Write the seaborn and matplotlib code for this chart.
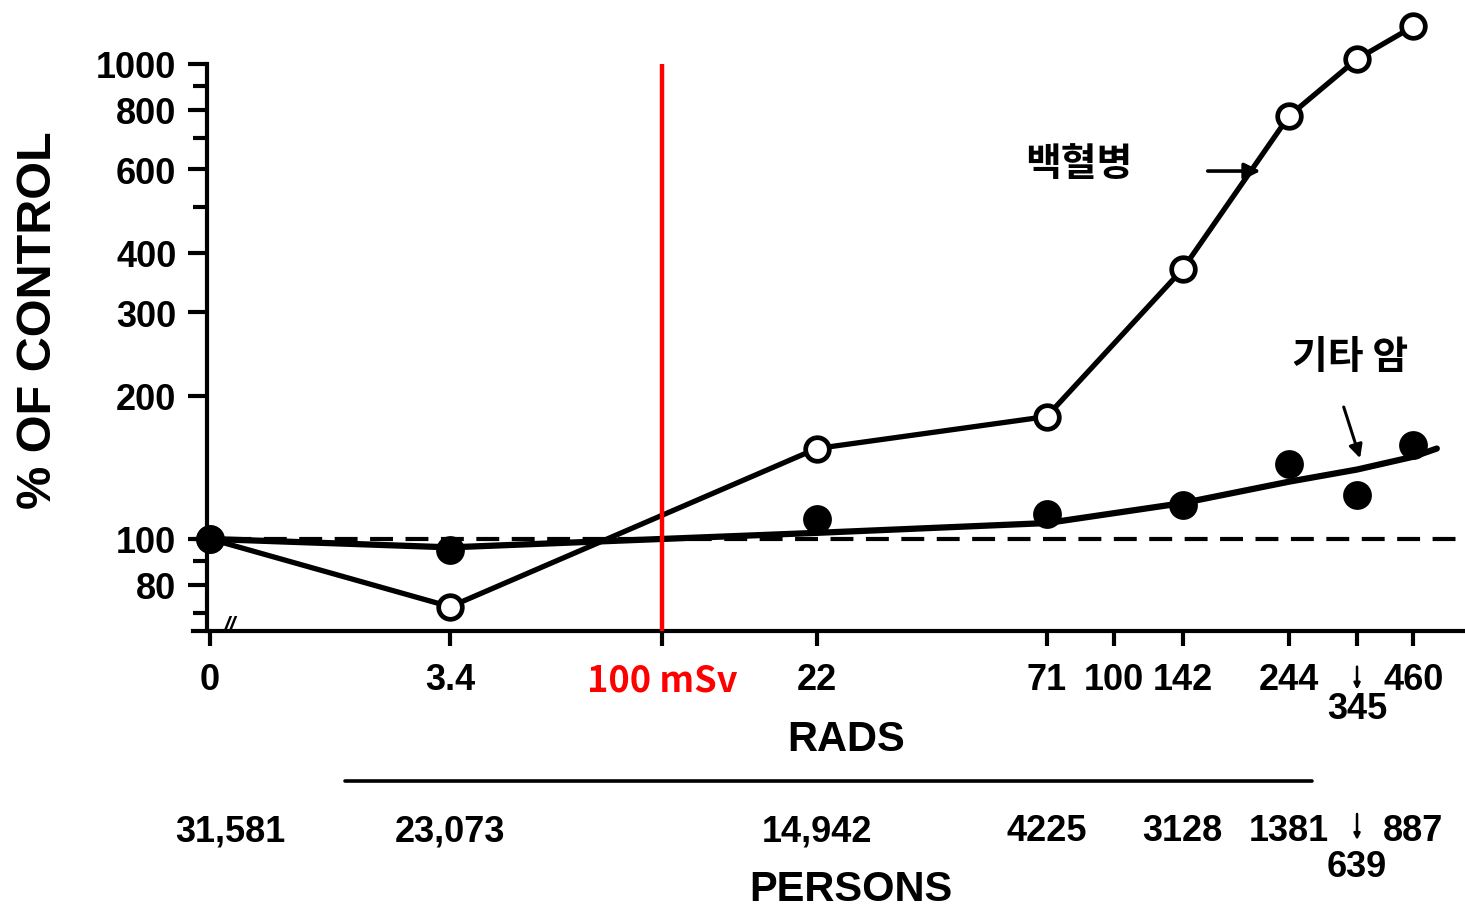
import numpy as np
import matplotlib
matplotlib.use('Agg')
import matplotlib.pyplot as plt
import matplotlib.transforms as mtransforms
from matplotlib.lines import Line2D
from matplotlib.ticker import FixedLocator, FixedFormatter, NullLocator, NullFormatter
import seaborn as sns

# ---------------- data ----------------
dose_groups = [0, 3.4, 22, 71, 142, 244, 345, 460]            # rads
dose_labels = ['0', '3.4', '22', '71', '142', '244', '345', '460']
leukemia_pct = [100, 72, 155, 181, 370, 777, 1024, 1200]      # % of control (open circles)
other_cancer_pct = [100, 95, 110, 113, 118, 144, 124, 158]    # % of control (filled circles)
fit_doses = [0, 3.4, 10, 22, 71, 142, 244, 345, 460, 518]     # drawn curve for other cancers
other_cancer_fit = [100, 96, 100, 103, 108, 119, 132, 140, 149, 155]
persons = ['31,581', '23,073', '14,942', '4225', '3128', '1381', '639', '887']
extra_dose_tick = 100
extra_dose_label = '100'
ref_dose = 10            # 10 rad ~ 100 mSv
ref_label = '100 mSv'
control_level = 100
y_major = [80, 100, 200, 300, 400, 600, 800, 1000]
y_major_labels = ['80', '100', '200', '300', '400', '600', '800', '1000']
y_minor = [70, 90, 500, 700, 900]
leuk_label = '백혈병'
other_label = '기타 암'


def xpos(d):
    """0 rad is drawn at the axis-break position (1 on the log axis)."""
    d = np.asarray(d, dtype=float)
    return np.where(d == 0, 1.0, d)


sns.set_style('white')
plt.rcParams['font.family'] = ['Liberation Sans', 'Noto Sans CJK KR', 'DejaVu Sans']
plt.rcParams['font.weight'] = 'bold'
for k in ['text.color', 'axes.labelcolor', 'xtick.color', 'ytick.color', 'axes.edgecolor']:
    plt.rcParams[k] = 'black'

fig = plt.figure(figsize=(14.65, 9.12), dpi=100)
ax = fig.add_axes([0.1317, 0.307, 0.8683, 0.693])
ax.set_xscale('log')
ax.set_yscale('log')
YMIN, YMAX = 64.0, 1370.0
ax.set_xlim(0.917, 598)
ax.set_ylim(YMIN, YMAX)

# control (dashed) line
ax.axhline(control_level, color='black', lw=3, ls=(0, (5.5, 3)), zorder=1)

# other cancers fitted curve
sns.lineplot(x=xpos(fit_doses), y=other_cancer_fit, ax=ax, color='black', lw=4.5,
             sort=False, estimator=None, zorder=3)
# leukemia line with open circles
sns.lineplot(x=xpos(dose_groups), y=leukemia_pct, ax=ax, color='black', lw=3.8,
             marker='o', markersize=17, markerfacecolor='white', markeredgecolor='black',
             markeredgewidth=3.4, sort=False, estimator=None, zorder=4)
# other cancers filled points
sns.scatterplot(x=xpos(dose_groups), y=other_cancer_pct, ax=ax, s=430, color='black',
                edgecolor='black', linewidth=0, zorder=5)

# red 100 mSv line
ax.vlines(ref_dose, YMIN, 1000, color='#ff0000', lw=3.2, zorder=6)

# ---- axes styling ----
for s in ['top', 'right']:
    ax.spines[s].set_visible(False)
ax.spines['left'].set_position(('axes', 0.011))
ax.spines['left'].set_bounds(YMIN, 1000)
ax.spines['left'].set_linewidth(3)
ax.spines['bottom'].set_linewidth(3)
ax.spines['left'].set_color('black')
ax.spines['bottom'].set_color('black')

xt = list(xpos(dose_groups)) + [ref_dose, extra_dose_tick]
xl = [lab if lab != '345' else '' for lab in dose_labels] + [ref_label, extra_dose_label]
order = np.argsort(xt)
xt = [xt[i] for i in order]
xl = [xl[i] for i in order]
ax.xaxis.set_major_locator(FixedLocator(xt))
ax.xaxis.set_major_formatter(FixedFormatter(xl))
ax.xaxis.set_minor_locator(NullLocator())
ax.tick_params(axis='x', which='major', direction='out', length=11, width=3,
               pad=11, labelsize=26, color='black', labelcolor='black', bottom=True)
for lab in ax.get_xticklabels():
    if lab.get_text() == ref_label:
        lab.set_color('#ff0000')
        lab.set_fontfamily(['Noto Sans CJK KR', 'DejaVu Sans'])
        lab.set_fontsize(26)

ax.yaxis.set_major_locator(FixedLocator(y_major))
ax.yaxis.set_major_formatter(FixedFormatter(y_major_labels))
ax.yaxis.set_minor_locator(FixedLocator(y_minor))
ax.yaxis.set_minor_formatter(NullFormatter())
ax.tick_params(axis='y', which='major', direction='out', length=14, width=3, pad=8,
               labelsize=26, left=True, color='black', labelcolor='black')
ax.tick_params(axis='y', which='minor', direction='out', length=10, width=3, left=True,
               color='black')

# 345 label placed below the row, with tiny arrow
blend = mtransforms.blended_transform_factory(ax.transData, ax.transAxes)
i345 = dose_labels.index('345')
x345 = xpos(dose_groups)[i345]
ax.text(x345, -0.123, dose_labels[i345], transform=blend, ha='center', va='center',
        fontsize=26, fontweight='bold', color='black')
ax.annotate('', xy=(x345, -0.097), xycoords=blend, xytext=(x345, -0.052), textcoords=blend,
            arrowprops=dict(arrowstyle='-|>', lw=1.8, color='black', mutation_scale=9),
            annotation_clip=False)

# persons row
for i, (d, p) in enumerate(zip(xpos(dose_groups), persons)):
    yy = -0.373 if dose_labels[i] == '345' else -0.316
    tr = blend
    if i == 0:
        tr = blend + mtransforms.ScaledTranslation(20 / 100, 0, fig.dpi_scale_trans)
    ax.text(d, yy, p, transform=tr, ha='center', va='center', fontsize=26,
            fontweight='bold', clip_on=False, color='black')
ax.annotate('', xy=(x345, -0.335), xycoords=blend, xytext=(x345, -0.285), textcoords=blend,
            arrowprops=dict(arrowstyle='-|>', lw=1.8, color='black', mutation_scale=9),
            annotation_clip=False)

# axis break mark
ax.text(0.029, 0.008, '//', transform=ax.transAxes, ha='center', va='center',
        fontsize=16, fontweight='bold', style='italic', color='black')

# series labels
ax.text(83.7, 616, leuk_label, ha='center', va='center', fontsize=28, fontweight='bold',
        fontfamily=['Noto Sans CJK KR', 'DejaVu Sans'], color='black')
ax.annotate('', xy=(214, 595), xytext=(159, 595),
            arrowprops=dict(arrowstyle='-|>', lw=2.6, color='black', mutation_scale=24))
ax.text(333, 242, other_label, ha='center', va='center', fontsize=28, fontweight='bold',
        fontfamily=['Noto Sans CJK KR', 'DejaVu Sans'], color='black')
ax.annotate('', xy=(352, 146), xytext=(321, 192),
            arrowprops=dict(arrowstyle='-|>', lw=2.2, color='black', mutation_scale=20))

# figure-level labels
fig.text(0.026, 0.649, '% OF CONTROL', rotation=90, ha='center', va='center',
         fontsize=35, fontweight='bold', color='black')
fig.text(0.5775, 0.1886, 'RADS', ha='center', va='center', fontsize=30, fontweight='bold',
         color='black')
fig.text(0.581, 0.0241, 'PERSONS', ha='center', va='center', fontsize=30, fontweight='bold',
         color='black')
fig.add_artist(Line2D([345 / 1465, 1312 / 1465], [1 - 782 / 912] * 2,
                      transform=fig.transFigure, color='black', lw=2.6))

fig.savefig('out.png', dpi=100)
